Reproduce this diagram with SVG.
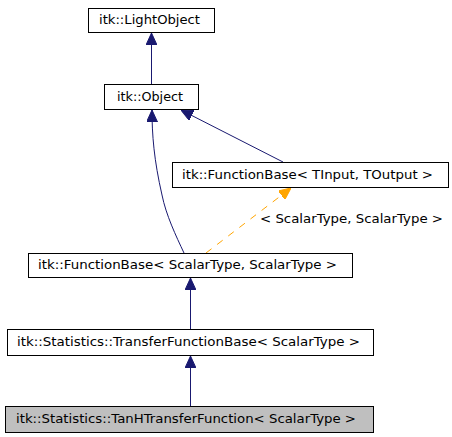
<svg xmlns="http://www.w3.org/2000/svg" width="452" height="437" viewBox="0 0 452 437">
<defs>
<style>
.box{fill:#ffffff;stroke:#000000;stroke-width:1}
.cur{fill:#bfbfbf;stroke:#000000;stroke-width:1}
text{font-family:"DejaVu Sans","Liberation Sans",sans-serif;font-size:12px;fill:#000000}
.edge{fill:none;stroke:#191970;stroke-width:1}
.tmpl{fill:none;stroke:#ffa500;stroke-width:1;stroke-dasharray:7,7}
</style>
<marker id="ah" viewBox="0 0 12 11" refX="12" refY="5.5" markerWidth="12" markerHeight="11" markerUnits="userSpaceOnUse" orient="auto">
<path d="M0,0 L12,5.5 L0,11 Z" fill="#191970" stroke="#191970"/>
</marker>
<marker id="ao" viewBox="0 0 12 11" refX="12" refY="5.5" markerWidth="12" markerHeight="11" markerUnits="userSpaceOnUse" orient="auto">
<path d="M0,0 L12,5.5 L0,11 Z" fill="#ffa500" stroke="#ffa500"/>
</marker>
</defs>
<rect width="452" height="437" fill="#ffffff"/>
<g id="edges">
<path class="edge" d="M151.5,84 L151.5,33" marker-end="url(#ah)"/>
<path class="edge" d="M283,162 L181,110" marker-end="url(#ah)"/>
<path class="edge" d="M184,253 C176,236 166,215 162,195 C154,160 152,135 152,110" marker-end="url(#ah)"/>
<path class="tmpl" d="M206,253 L291,188" marker-end="url(#ao)"/>
<path class="edge" d="M190.5,329 L190.5,278" marker-end="url(#ah)"/>
<path class="edge" d="M190.5,406 L190.5,356" marker-end="url(#ah)"/>
</g>
<g id="node-lightobject">
<rect class="box" x="88.5" y="8.5" width="126" height="24"/>
<text x="99" y="24" textLength="101" lengthAdjust="spacingAndGlyphs">itk::LightObject</text>
</g>
<g id="node-object">
<rect class="box" x="104.5" y="84.5" width="94" height="25"/>
<text x="117" y="101" textLength="66" lengthAdjust="spacingAndGlyphs">itk::Object</text>
</g>
<g id="node-functionbase-tinput">
<rect class="box" x="172.5" y="162.5" width="276" height="25"/>
<text x="182" y="179" textLength="251" lengthAdjust="spacingAndGlyphs">itk::FunctionBase&lt; TInput, TOutput &gt;</text>
</g>
<g id="edge-label">
<text x="260" y="223" textLength="183" lengthAdjust="spacingAndGlyphs">&lt; ScalarType, ScalarType &gt;</text>
</g>
<g id="node-functionbase-scalar">
<rect class="box" x="28.5" y="253.5" width="324" height="24"/>
<text x="38" y="269" textLength="299" lengthAdjust="spacingAndGlyphs">itk::FunctionBase&lt; ScalarType, ScalarType &gt;</text>
</g>
<g id="node-transferfunctionbase">
<rect class="box" x="7.5" y="329.5" width="366" height="26"/>
<text x="17" y="346" textLength="343" lengthAdjust="spacingAndGlyphs">itk::Statistics::TransferFunctionBase&lt; ScalarType &gt;</text>
</g>
<g id="node-tanh">
<rect class="cur" x="5.5" y="406.5" width="368" height="26"/>
<text x="16" y="423" textLength="340" lengthAdjust="spacingAndGlyphs">itk::Statistics::TanHTransferFunction&lt; ScalarType &gt;</text>
</g>
</svg>
